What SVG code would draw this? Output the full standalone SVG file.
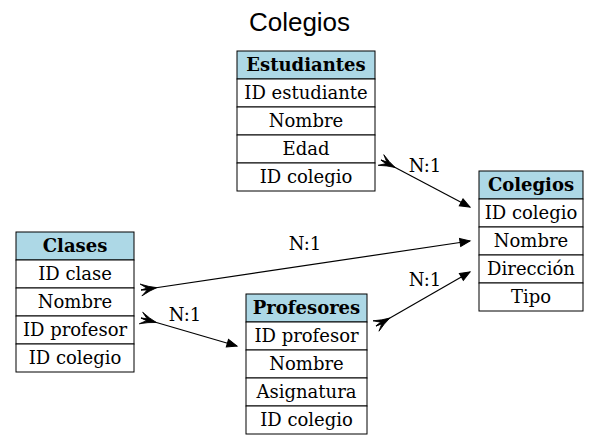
<svg xmlns="http://www.w3.org/2000/svg" width="599" height="445" viewBox="0 0 599 445">
<defs>
<style>
.cell{fill:#ffffff;stroke:#000000;stroke-width:1}
.hdr{fill:#add8e6;stroke:#000000;stroke-width:1}
.t{font-family:"DejaVu Serif",serif;font-size:18px;text-anchor:middle;fill:#000}
.b{font-weight:bold}
.title{font-family:"Liberation Sans",Arial,sans-serif;font-size:26px;text-anchor:middle;fill:#000}
.edge{fill:none;stroke:#000;stroke-width:1.2;marker-start:url(#crow);marker-end:url(#head)}
.lbl{font-family:"DejaVu Serif",serif;font-size:18px;text-anchor:middle;fill:#000}
</style>
<marker id="head" markerUnits="userSpaceOnUse" markerWidth="12" markerHeight="10" refX="10" refY="4" orient="auto" overflow="visible">
<path d="M0,0 L10,4 L0,8 Z" fill="#000" stroke="#000" stroke-width="1"/>
</marker>
<marker id="crow" markerUnits="userSpaceOnUse" markerWidth="18" markerHeight="14" refX="0" refY="0" orient="auto" overflow="visible">
<path d="M0,-6 Q8,-2 16,0 Q8,2 0,6 L6,1 L0,0 L6,-1 Z" fill="#000" stroke="#000" stroke-width="0.8"/>
</marker>
</defs>
<rect width="599" height="445" fill="#fff"/>
<text class="title" x="299.5" y="31">Colegios</text>

<g id="estudiantes">
<rect class="hdr" x="237" y="51" width="138" height="28"/>
<rect class="cell" x="237" y="79" width="138" height="28"/>
<rect class="cell" x="237" y="107" width="138" height="28"/>
<rect class="cell" x="237" y="135" width="138" height="28"/>
<rect class="cell" x="237" y="163" width="138" height="28"/>
<text class="t b" x="306" y="71">Estudiantes</text>
<text class="t" x="306" y="99">ID estudiante</text>
<text class="t" x="306" y="127">Nombre</text>
<text class="t" x="306" y="155">Edad</text>
<text class="t" x="306" y="183">ID colegio</text>
</g>

<g id="colegios">
<rect class="hdr" x="479" y="171" width="104" height="28"/>
<rect class="cell" x="479" y="199" width="104" height="28"/>
<rect class="cell" x="479" y="227" width="104" height="28"/>
<rect class="cell" x="479" y="255" width="104" height="28"/>
<rect class="cell" x="479" y="283" width="104" height="28"/>
<text class="t b" x="531" y="191">Colegios</text>
<text class="t" x="531" y="219">ID colegio</text>
<text class="t" x="531" y="247">Nombre</text>
<text class="t" x="531" y="275">Dirección</text>
<text class="t" x="531" y="303">Tipo</text>
</g>

<g id="clases">
<rect class="hdr" x="16" y="232" width="118" height="28"/>
<rect class="cell" x="16" y="260" width="118" height="28"/>
<rect class="cell" x="16" y="288" width="118" height="28"/>
<rect class="cell" x="16" y="316" width="118" height="28"/>
<rect class="cell" x="16" y="344" width="118" height="28"/>
<text class="t b" x="75" y="252">Clases</text>
<text class="t" x="75" y="280">ID clase</text>
<text class="t" x="75" y="308">Nombre</text>
<text class="t" x="75" y="336">ID profesor</text>
<text class="t" x="75" y="364">ID colegio</text>
</g>

<g id="profesores">
<rect class="hdr" x="246" y="294" width="121" height="28"/>
<rect class="cell" x="246" y="322" width="121" height="28"/>
<rect class="cell" x="246" y="350" width="121" height="28"/>
<rect class="cell" x="246" y="378" width="121" height="28"/>
<rect class="cell" x="246" y="406" width="121" height="28"/>
<text class="t b" x="306.5" y="314">Profesores</text>
<text class="t" x="306.5" y="342">ID profesor</text>
<text class="t" x="306.5" y="370">Nombre</text>
<text class="t" x="306.5" y="398">Asignatura</text>
<text class="t" x="306.5" y="426">ID colegio</text>
</g>

<g id="connectors">
<path class="edge" d="M381,160 L470,207"/>
<text class="lbl" x="425" y="172">N:1</text>
<path class="edge" d="M141,290 L470,241"/>
<text class="lbl" x="305" y="250">N:1</text>
<path class="edge" d="M141,318 L237,346"/>
<text class="lbl" x="185" y="321">N:1</text>
<path class="edge" d="M376,326 L470,272"/>
<text class="lbl" x="425" y="286">N:1</text>
</g>
</svg>
